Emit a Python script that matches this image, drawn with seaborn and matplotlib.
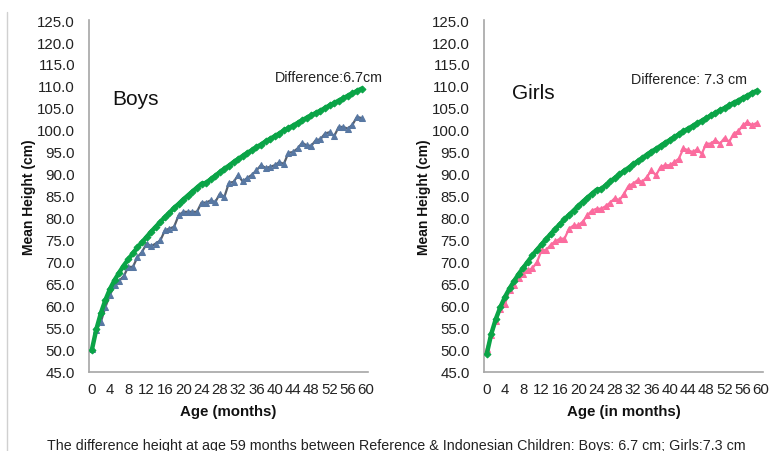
import numpy as np
import pandas as pd
import matplotlib
matplotlib.use("Agg")
import matplotlib.pyplot as plt
from matplotlib.lines import Line2D
import seaborn as sns

# Age in months
months = list(range(0, 60))

# WHO reference median heights (cm)
ref_boys = [49.9, 54.7, 58.4, 61.4, 63.9, 65.9, 67.6, 69.2, 70.6, 72.0,
            73.3, 74.5, 75.7, 76.9, 78.0, 79.1, 80.2, 81.2, 82.3, 83.2,
            84.2, 85.1, 86.0, 86.9, 87.8, 88.0, 88.8, 89.6, 90.4, 91.2,
            91.9, 92.7, 93.4, 94.1, 94.8, 95.4, 96.1, 96.7, 97.4, 98.0,
            98.6, 99.2, 99.9, 100.4, 101.0, 101.6, 102.2, 102.8, 103.3, 103.9,
            104.4, 105.0, 105.6, 106.1, 106.7, 107.2, 107.8, 108.3, 108.9, 109.4]
ref_girls = [49.1, 53.7, 57.1, 59.8, 62.1, 64.0, 65.7, 67.3, 68.7, 70.1,
             71.5, 72.8, 74.0, 75.2, 76.4, 77.5, 78.6, 79.7, 80.7, 81.7,
             82.7, 83.7, 84.6, 85.5, 86.4, 86.6, 87.4, 88.3, 89.1, 89.9,
             90.7, 91.4, 92.2, 92.9, 93.6, 94.4, 95.1, 95.7, 96.4, 97.1,
             97.7, 98.4, 99.0, 99.7, 100.3, 100.9, 101.5, 102.1, 102.7, 103.3,
             103.9, 104.5, 105.0, 105.6, 106.2, 106.7, 107.3, 107.8, 108.4, 108.9]

# Indonesian children mean heights (cm)
indo_boys = [50.3, 54.5, 56.4, 59.8, 62.6, 64.7, 65.7, 66.8, 68.9, 68.9,
             71.1, 72.3, 74.2, 73.6, 74.2, 74.9, 77.2, 77.6, 78.0, 80.6,
             81.4, 81.4, 81.4, 81.4, 83.5, 83.5, 84.0, 83.6, 85.5, 84.8,
             88.0, 88.2, 89.7, 88.3, 89.1, 89.8, 90.8, 92.0, 91.4, 91.6,
             92.0, 92.7, 92.3, 94.8, 95.0, 95.8, 97.1, 96.5, 96.4, 97.7,
             97.9, 99.2, 99.5, 98.6, 100.7, 100.7, 100.3, 101.2, 103.0, 102.7]
indo_girls = [50.3, 53.3, 56.5, 59.4, 60.5, 63.6, 64.8, 66.4, 67.3, 68.1,
              68.6, 70.0, 72.7, 72.7, 73.9, 74.7, 75.3, 75.3, 77.6, 78.3,
              78.3, 79.2, 80.6, 81.7, 82.1, 82.1, 82.7, 83.5, 84.5, 84.0,
              85.5, 87.3, 87.8, 88.6, 88.2, 89.3, 90.8, 89.7, 91.6, 92.0,
              92.0, 92.7, 93.5, 95.8, 95.4, 95.0, 95.6, 94.6, 96.9, 96.9,
              97.7, 96.9, 98.2, 97.3, 99.2, 99.7, 101.1, 101.8, 101.1, 101.6]

y_ticks = np.arange(45, 126, 5)
x_ticks = list(range(0, 61, 4))

GREEN = "#0aa447"
BLUE = "#5878a3"
BLUE_LINE = "#56606e"
PINK = "#fb6c9e"
AXIS_GRAY = "#a6a6a6"

sns.set_theme(style="white")
plt.rcParams["font.family"] = ["Liberation Sans", "DejaVu Sans"]

fig = plt.figure(figsize=(7.72, 4.52), dpi=100)
ax_b = fig.add_axes([89 / 772, 1 - 373 / 452, (368 - 89) / 772, (373 - 21) / 452])
ax_g = fig.add_axes([484 / 772, 1 - 373 / 452, (763 - 484) / 772, (373 - 21) / 452])


def draw_panel(ax, ref, indo, indo_color, line_color, xlabel, title, diff_text, diff_xy, title_xy, ylab_x):
    df = pd.DataFrame({"month": months, "ref": ref, "indo": indo})
    sns.lineplot(data=df, x="month", y="indo", ax=ax, color=line_color, linewidth=1.6,
                 marker="^", markersize=5, markerfacecolor=indo_color,
                 markeredgecolor=indo_color, zorder=2)
    sns.lineplot(data=df, x="month", y="ref", ax=ax, color=GREEN, linewidth=3.2,
                 marker="D", markersize=3.5, markerfacecolor=GREEN,
                 markeredgecolor=GREEN, zorder=3)
    ax.set_xlim(-0.6, 60.4)
    ax.set_ylim(45, 125)
    ax.set_yticks(y_ticks)
    ax.set_yticklabels([f"{v:.1f}" for v in y_ticks], fontsize=10.8, color="#222222")
    ax.set_xticks(x_ticks)
    ax.set_xticklabels([str(v) for v in x_ticks], fontsize=10.8, color="#222222")
    ax.tick_params(axis="both", length=0)
    ax.tick_params(axis="y", pad=10)
    ax.tick_params(axis="x", pad=7)
    for side in ("top", "right"):
        ax.spines[side].set_visible(False)
    for side in ("left", "bottom"):
        ax.spines[side].set_color(AXIS_GRAY)
        ax.spines[side].set_linewidth(1.2)
    ax.set_xlabel(xlabel, fontsize=10.8, fontweight="bold", color="#111111", labelpad=6)
    ax.set_ylabel("")
    fig.text(ylab_x / 772, 1 - 197 / 452, "Mean Height (cm)", rotation=90,
             fontsize=10, fontweight="bold", color="#111111", ha="center", va="center")
    ax.text(title_xy[0], title_xy[1], title, fontsize=15, color="#111111",
            ha="left", va="center")
    ax.text(diff_xy[0], diff_xy[1], diff_text, fontsize=10.3, color="#222222",
            ha="center", va="center")


draw_panel(ax_b, ref_boys, indo_boys, BLUE, BLUE_LINE, "Age (months)", "Boys",
           "Difference:6.7cm", (51.9, 112.0), (4.5, 107.2), 29)
draw_panel(ax_g, ref_girls, indo_girls, PINK, PINK, "Age (in months)", "Girls",
           "Difference: 7.3 cm", (44.3, 111.6), (5.5, 108.6), 424)

fig.text(396 / 772, 1 - 446 / 452,
         "The difference height at age 59 months between Reference & Indonesian Children: Boys: 6.7 cm; Girls:7.3 cm",
         fontsize=10.3, color="#222222", ha="center", va="center")

fig.add_artist(Line2D([7 / 772, 7 / 772], [0, 1 - 13 / 452], transform=fig.transFigure,
                      color="#d0d0d0", linewidth=1.0))

fig.savefig("out.png", dpi=100)
